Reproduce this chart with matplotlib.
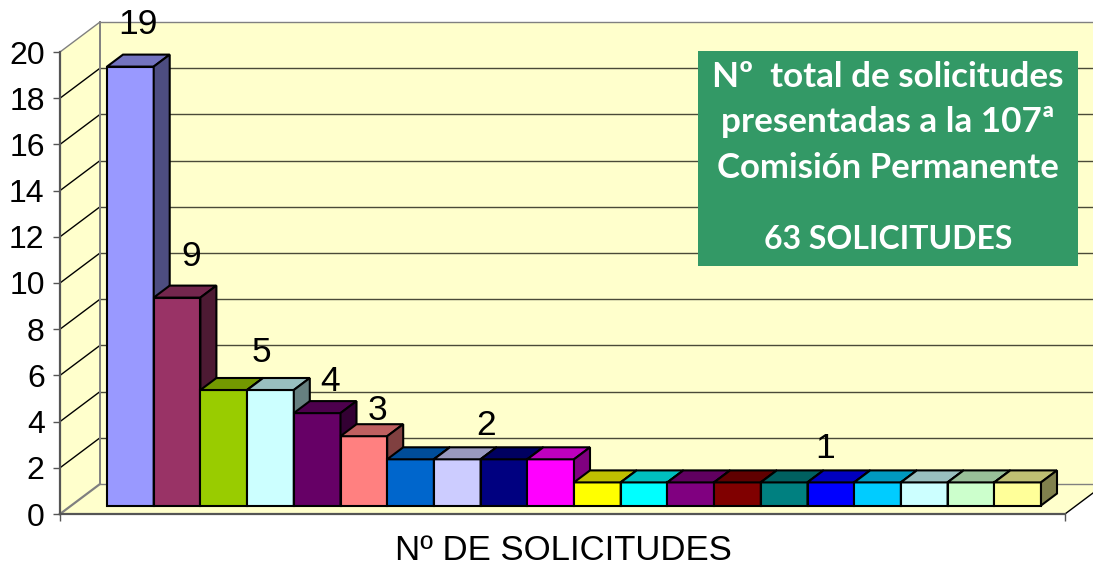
import matplotlib

matplotlib.use("Agg")

import matplotlib.pyplot as plt
from matplotlib.colors import to_rgb
from matplotlib.patches import Polygon, Rectangle

# data
values = [19, 9, 5, 5, 4, 3, 2, 2, 2, 2, 1, 1, 1, 1, 1, 1, 1, 1, 1, 1]
bar_colors = [
    "#9999FF", "#993366", "#99CC00", "#CCFFFF", "#660066",
    "#FF8080", "#0066CC", "#CCCCFF", "#000080", "#FF00FF",
    "#FFFF00", "#00FFFF", "#800080", "#800000", "#008080",
    "#0000FF", "#00CCFF", "#CCFFFF", "#CCFFCC", "#FFFF99",
]
y_ticks = list(range(0, 21, 2))
label_values = [19, 9, 5, 4, 3, 2, 1]
label_bars = [0, 1, 2.5, 4, 5, 7.5, 14.5]  # bar (or middle of a group) each label sits on
x_title = "Nº DE SOLICITUDES"
box_lines = ["Nº  total de solicitudes", "presentadas a la 107ª", "Comisión Permanente", "63 SOLICITUDES"]

W, H = 1093, 567
WALL = "#FFFFCC"
GRID = "#4A4A38"
GRAY = "#808080"
AXIS = "#555555"

# pixel layout of the fake 3D box
AX_L, AX_R, AX_B, AX_T = 60, 1065, 514, 52
BAR_X0, BAR_W = 107, 46.7
UNIT = (AX_B - AX_T) / 20

plt.rcParams["font.family"] = ["Liberation Sans", "DejaVu Sans"]

fig = plt.figure(figsize=(W / 100, H / 100), dpi=100, facecolor="white")
ax = fig.add_axes([AX_L / W, 1 - AX_B / H, (AX_R - AX_L) / W, (AX_B - AX_T) / H])
ax.patch.set_visible(False)
ax.set_xlim((AX_L - BAR_X0) / BAR_W - 0.5, (AX_R - BAR_X0) / BAR_W - 0.5)
ax.set_ylim(0, 20)

# depth offsets in data units
wall_dx, wall_dy = 40 / BAR_W, 30 / UNIT
bar_dx, bar_dy = 16 / BAR_W, 12 / UNIT
bar_base = 8.5 / UNIT

x_lo, x_hi = ax.get_xlim()
x_far = x_hi + 2  # runs off the right edge of the figure

# walls and floor
ax.add_patch(Polygon([(x_lo, 0), (x_lo + wall_dx, wall_dy), (x_lo + wall_dx, 20 + wall_dy), (x_lo, 20)],
                     fc=WALL, ec="none", clip_on=False, zorder=0))
ax.add_patch(Rectangle((x_lo + wall_dx, wall_dy), x_far - x_lo, 20, fc=WALL, ec="none", clip_on=False, zorder=0))
ax.add_patch(Polygon([(x_lo, 0), (x_lo + wall_dx, wall_dy), (x_hi + wall_dx, wall_dy), (x_hi, 0)],
                     fc=WALL, ec="none", clip_on=False, zorder=0))

for v in y_ticks:
    edge = GRAY if v in (0, 20) else GRID
    ax.plot([x_lo, x_lo + wall_dx], [v, v + wall_dy], color=edge if v in (0, 20) else "black",
            lw=1.0 if v else 1.6, clip_on=False, zorder=1)
    ax.plot([x_lo + wall_dx, x_far], [v + wall_dy, v + wall_dy], color=edge, lw=1.0, clip_on=False, zorder=1)
ax.plot([x_lo + wall_dx, x_lo + wall_dx], [wall_dy, 20 + wall_dy], color=GRAY, lw=1.4, clip_on=False, zorder=1)
ax.plot([x_hi, x_hi + wall_dx], [0, wall_dy], color="black", lw=1.0, clip_on=False, zorder=1)

# bars, left to right so each one overlaps the side of the one before
for i, (v, c) in enumerate(zip(values, bar_colors)):
    z = 3 + i
    ax.bar(i, v, width=1.0, bottom=bar_base, color=c, edgecolor="black", linewidth=1.5, zorder=z)
    l, r, top = i - 0.5, i + 0.5, bar_base + v
    rgb = to_rgb(c)
    ax.add_patch(Polygon([(l, top), (l + bar_dx, top + bar_dy), (r + bar_dx, top + bar_dy), (r, top)],
                         fc=[k * 0.75 for k in rgb], ec="black", lw=1.5, joinstyle="miter", clip_on=False, zorder=z))
    ax.add_patch(Polygon([(r, bar_base), (r + bar_dx, bar_base + bar_dy), (r + bar_dx, top + bar_dy), (r, top)],
                         fc=[k * 0.5 for k in rgb], ec="black", lw=1.5, joinstyle="miter", clip_on=False, zorder=z))

# value labels, nudged in pixels to where the picture has them
nudges = [(8, 42), (14, 41), (14, 37), (13, 32), (14, 26), (5, 34), (18, 34)]
for v, b, (nx, ny) in zip(label_values, label_bars, nudges):
    ax.annotate(str(v), (b, bar_base + v), xytext=(nx * 0.72, ny * 0.72), textcoords="offset points",
                ha="center", va="center", fontsize=25.5, color="black", annotation_clip=False, zorder=40)

# axes
for side in ("top", "right"):
    ax.spines[side].set_visible(False)
for side in ("left", "bottom"):
    ax.spines[side].set_color(AXIS)
    ax.spines[side].set_linewidth(1.6)
    ax.spines[side].set_zorder(2)
ax.set_yticks(y_ticks)
ax.tick_params(axis="y", labelsize=23, length=5, width=1.0, color=AXIS, pad=6)
ax.set_xticks([x_lo, x_hi])
ax.set_xticklabels(["", ""])
ax.tick_params(axis="x", length=5, width=1.0, color=AXIS)
fig.text(563.5 / W, 1 - 550 / H, x_title, ha="center", va="center", fontsize=25, color="black")

# green box
fig.add_artist(Rectangle((698 / W, 1 - 266 / H), 380 / W, 215 / H, transform=fig.transFigure,
                         fc="#339966", ec="none", zorder=50))
box_base = [87, 132, 178, 249]
box_size = [25.2, 25.3, 25, 23]
for line, y, size in zip(box_lines, box_base, box_size):
    fig.text(888 / W, 1 - y / H, line, ha="center", va="baseline", fontsize=size, fontweight="bold",
             family=["Lato", "DejaVu Sans"], color="white", zorder=51)

fig.savefig("out.png", dpi=100)
